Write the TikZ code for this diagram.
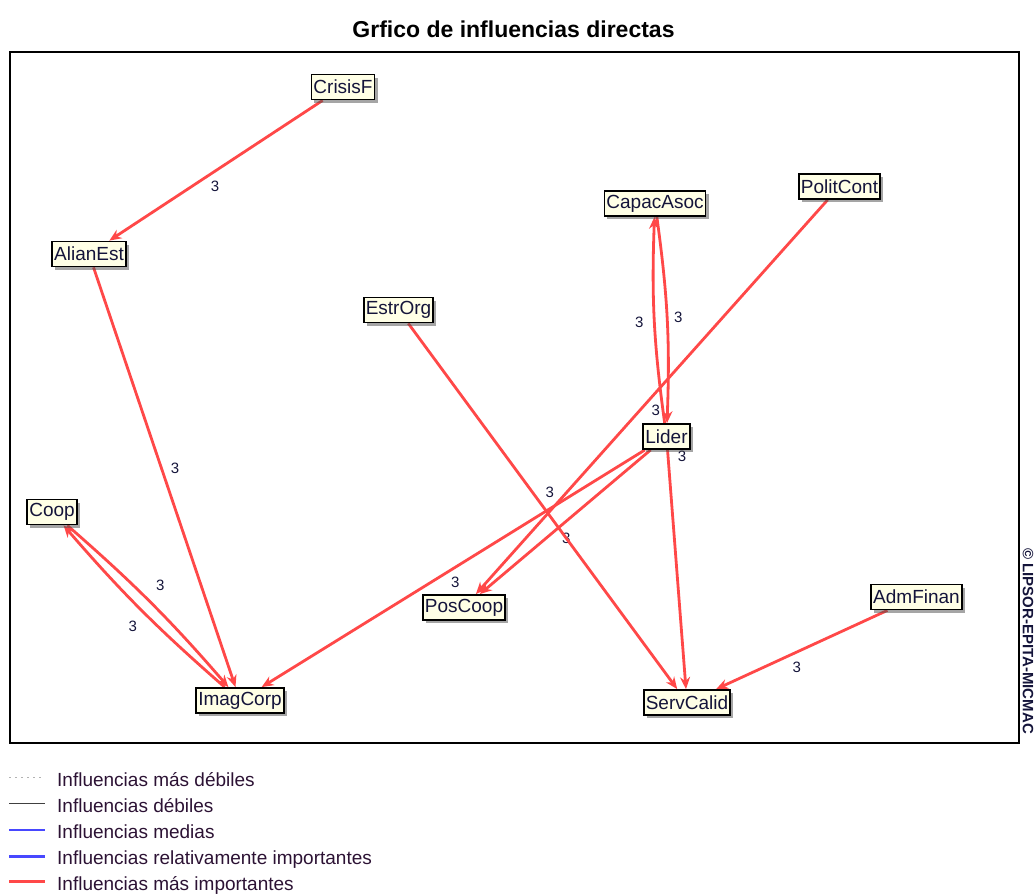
\documentclass[tikz,border=0pt]{standalone}
\usepackage{fontspec}
\setmainfont{Liberation Sans}
\usetikzlibrary{arrows.meta, shadows, backgrounds}
\definecolor{infred}{HTML}{FF4848}
\definecolor{infblue}{HTML}{4848FF}
\definecolor{boxfill}{HTML}{FFFFE6}
\definecolor{nodetext}{HTML}{14143A}
\definecolor{legtext}{HTML}{2C1234}

\begin{document}
\begin{tikzpicture}[x=1pt, y=-1pt,
    var/.style={draw=black, line width=1.8pt, fill=boxfill, text=nodetext,
        font=\fontsize{19}{22}\selectfont, inner xsep=2pt, inner ysep=0pt,
        minimum height=25pt,
        drop shadow={shadow xshift=3pt, shadow yshift=-3pt, fill=black!70}},
    infl/.style={infred, line width=2.8pt, -{Stealth[length=12pt, width=10pt]}},
    val/.style={text=nodetext, font=\fontsize{15}{17}\selectfont, inner sep=0pt},
    legend/.style={anchor=base west, text=legtext, font=\fontsize{19}{22}\selectfont, inner sep=0pt}
]
    \useasboundingbox (0,0) rectangle (1036,894);

    \node[font=\bfseries\fontsize{23}{26}\selectfont, anchor=base] at (513.5,37) (title) {Grfico de influencias directas};

    % variables
    \node[var] at (343,87) (CrisisF) {CrisisF};
    \node[var] at (89,254) (AlianEst) {AlianEst};
    \node[var] at (655,203.5) (CapacAsoc) {CapacAsoc};
    \node[var] at (839.5,186.5) (PolitCont) {PolitCont};
    \node[var] at (398.5,310) (EstrOrg) {EstrOrg};
    \node[var] at (666.5,436.5) (Lider) {Lider};
    \node[var] at (52,512) (Coop) {Coop};
    \node[var] at (464,607.5) (PosCoop) {PosCoop};
    \node[var] at (916.5,597) (AdmFinan) {AdmFinan};
    \node[var] at (240,700.5) (ImagCorp) {ImagCorp};
    \node[var] at (687,702.5) (ServCalid) {ServCalid};

    \node[rotate=-90, text=nodetext, font=\bfseries\fontsize{15}{17}\selectfont] at (1028,641) (micmac) {© LIPSOR-EPITA-MICMAC};

    \begin{scope}[on background layer]
        \draw[line width=1.6pt] (10,52) rectangle (1019,743);

        \draw[infl] (CrisisF) -- node[val, xshift=-1pt, yshift=-15.5pt] (vA) {3} (AlianEst);
        \draw[infl] (AlianEst) -- node[val, xshift=10.5pt, yshift=9pt] (vB) {3} (ImagCorp);
        \draw[infl] (Coop) to[bend left=4] node[val, xshift=9pt, yshift=18pt] (vC) {3} (ImagCorp);
        \draw[infl] (ImagCorp) to[bend left=4] node[val, xshift=-8pt, yshift=-17pt] (vD) {3} (Coop);
        \draw[infl] (Lider) -- node[val, xshift=2pt, yshift=-13.5pt] (vE) {3} (ImagCorp);
        \draw[infl] (Lider) -- node[val, xshift=1pt, yshift=-16pt] (vF) {3} (PosCoop);
        \draw[infl] (PolitCont) -- node[val, xshift=4pt, yshift=-13pt] (vG) {3} (PosCoop);
        \draw[infl] (EstrOrg) -- node[val, xshift=7pt, yshift=14pt] (vH) {3} (ServCalid);
        \draw[infl] (Lider) -- node[val, pos=0, xshift=14.5pt, yshift=-6pt] (vI) {3} (ServCalid);
        \draw[infl] (CapacAsoc) to[bend left=5] node[val, xshift=11pt, yshift=2pt] (vJ) {3} (Lider);
        \draw[infl] (Lider) to[bend left=5] node[val, xshift=-15pt, yshift=-2pt] (vK) {3} (CapacAsoc);
        \draw[infl] (AdmFinan) -- node[val, xshift=-5pt, yshift=-18pt] (vL) {3} (ServCalid);
    \end{scope}

    % legend
    \node[legend] at (57,786) (l1) {Influencias más débiles};
    \node[legend] at (57,812) (l2) {Influencias débiles};
    \node[legend] at (57,838.5) (l3) {Influencias medias};
    \node[legend] at (57,864.5) (l4) {Influencias relativamente importantes};
    \node[legend] at (57,890) (l5) {Influencias más importantes};

    \draw[black!30, line width=1pt, dash pattern=on 2pt off 4pt] ([xshift=-48pt, yshift=8.5pt]l1.base west) -- ([xshift=-14pt, yshift=8.5pt]l1.base west);
    \draw[black!75, line width=1.4pt] ([xshift=-48pt, yshift=8.5pt]l2.base west) -- ([xshift=-12pt, yshift=8.5pt]l2.base west);
    \draw[infblue, line width=1.4pt] ([xshift=-48pt, yshift=8.5pt]l3.base west) -- ([xshift=-12pt, yshift=8.5pt]l3.base west);
    \draw[infblue, line width=3pt] ([xshift=-48pt, yshift=8.5pt]l4.base west) -- ([xshift=-12pt, yshift=8.5pt]l4.base west);
    \draw[infred, line width=3pt] ([xshift=-48pt, yshift=8.5pt]l5.base west) -- ([xshift=-12pt, yshift=8.5pt]l5.base west);
\end{tikzpicture}
\end{document}
